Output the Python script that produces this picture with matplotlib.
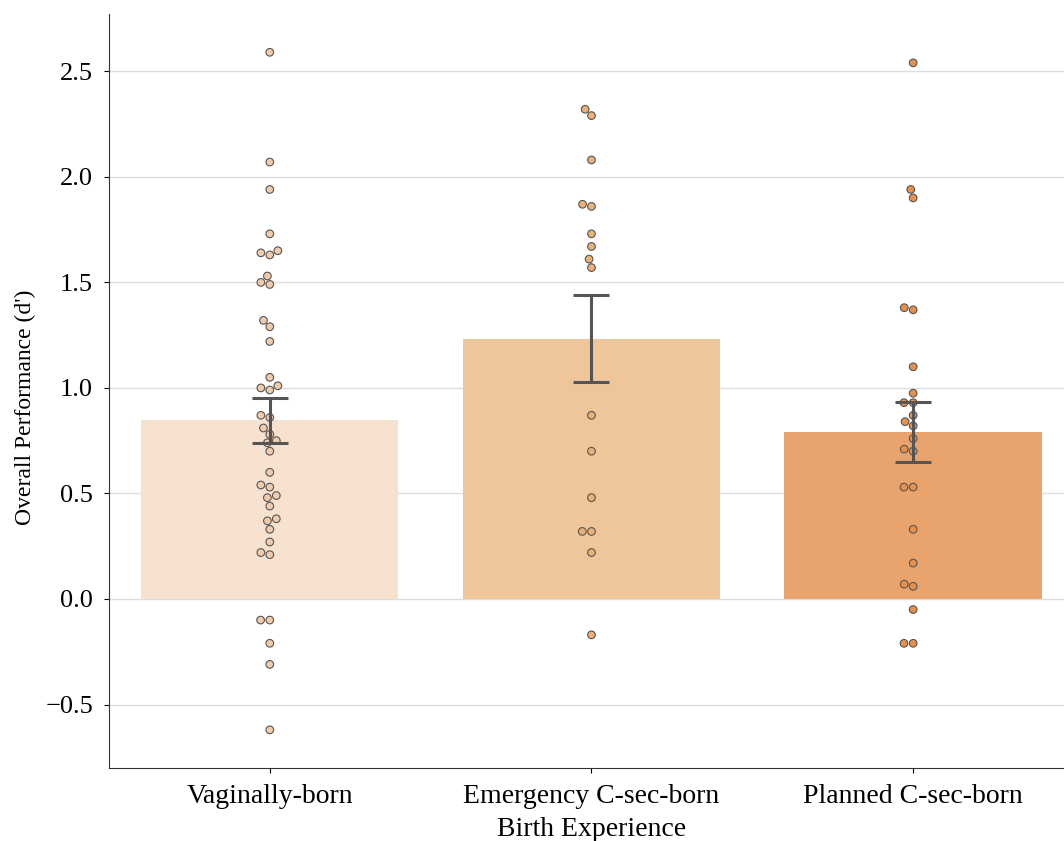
import numpy as np
import pandas as pd
import matplotlib
matplotlib.use("Agg")
import matplotlib.pyplot as plt
import seaborn as sns

# Values (d' per participant)
categories = ["Vaginally-born", "Emergency C-sec-born", "Planned C-sec-born"]
vaginal = [2.59, 2.07, 1.94, 1.73, 1.65, 1.64, 1.63, 1.53, 1.50, 1.49,
           1.32, 1.29, 1.22, 1.05, 1.01, 1.00, 0.99, 0.87, 0.86, 0.81,
           0.78, 0.75, 0.74, 0.70, 0.60, 0.54, 0.53, 0.49, 0.48, 0.44,
           0.38, 0.37, 0.33, 0.27, 0.22, 0.21, -0.10, -0.10, -0.21, -0.31, -0.62]
emergency = [2.32, 2.29, 2.08, 1.87, 1.86, 1.73, 1.67, 1.61, 1.57,
             0.87, 0.70, 0.48, 0.32, 0.32, 0.22, -0.17]
planned = [2.54, 1.94, 1.90, 1.38, 1.37, 1.10, 0.975, 0.93, 0.93, 0.87,
           0.84, 0.82, 0.76, 0.71, 0.70, 0.53, 0.53, 0.33, 0.17, 0.07,
           0.06, -0.05, -0.21, -0.21]

bar_colors = ["#F7E1CF", "#EFC59B", "#E8A46C"]
dot_colors = ["#F2CBAA", "#EDB077", "#E8904A"]

df = pd.DataFrame({
    "group": [categories[0]] * len(vaginal) + [categories[1]] * len(emergency) + [categories[2]] * len(planned),
    "dprime": vaginal + emergency + planned,
})

plt.rcParams["font.family"] = ["Liberation Serif", "DejaVu Serif"]

fig = plt.figure(figsize=(10.64, 8.41), dpi=100)
ax = fig.add_axes([0.1024, 0.087, 0.907, 0.896])

ax.grid(True, color="#dddddd", linewidth=1.0, zorder=0)
ax.set_axisbelow(True)

groups = [vaginal, emergency, planned]
means = [np.mean(g) for g in groups]
ses = [np.std(g, ddof=1) / np.sqrt(len(g)) for g in groups]
xpos = np.arange(len(categories))

ax.bar(xpos, means, width=0.8, color=bar_colors, zorder=2)

sns.swarmplot(data=df, x="group", y="dprime", hue="group", palette=dot_colors,
              order=categories, size=5.5, edgecolor="#555555", linewidth=0.8,
              legend=False, ax=ax, zorder=3)

ax.errorbar(xpos, means, yerr=ses, fmt="none", ecolor="#555555",
            elinewidth=2.2, capsize=13, capthick=2.2, zorder=4)

ax.set_xlim(-0.5, 2.5)
ax.set_ylim(-0.8, 2.77)
ax.set_yticks([-0.5, 0.0, 0.5, 1.0, 1.5, 2.0, 2.5])
ax.set_xticks(xpos)
ax.set_xticklabels(categories)
ax.tick_params(axis="x", labelsize=20, pad=8)
ax.tick_params(axis="y", labelsize=19, pad=8)
ax.set_xlabel("Birth Experience", fontsize=20, labelpad=6)
ax.set_ylabel("Overall Performance (d')", fontsize=17)
ax.yaxis.set_label_coords(-0.076, 0.478)

ax.spines["top"].set_visible(False)
ax.spines["right"].set_visible(False)
ax.spines["left"].set_color("#333333")
ax.spines["bottom"].set_color("#333333")

fig.savefig("out.png", dpi=100)
